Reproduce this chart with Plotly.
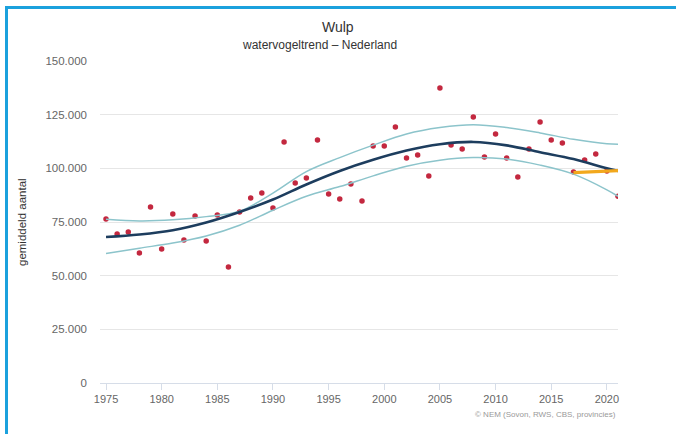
import plotly.graph_objects as go

# ---- data ----
years = list(range(1975, 2022))
counts = [76400, 69400, 70300, 60600, 82000, 62400, 78700, 66600, 77800, 66100,
          78300, 54000, 79700, 86200, 88500, 81500, 112300, 93200, 95500, 113200,
          88000, 85700, 92700, 84800, 110400, 110400, 119300, 104800, 106200, 96400,
          137400, 110900, 109000, 123900, 105300, 116000, 104800, 96000, 109000, 121600,
          113200, 111800, 98300, 103900, 106700, 98800, 87000]

trend_years = [1975, 1978, 1981, 1984, 1987, 1990, 1993, 1996, 1999, 2002,
               2005, 2008, 2011, 2014, 2017, 2020, 2021]
trend = [68000, 69200, 71200, 74800, 79700, 85500, 92500, 98800, 104000, 108300,
         111200, 112300, 110700, 107500, 104300, 100000, 98800]
upper = [76300, 75500, 76000, 77500, 80000, 88500, 98500, 105000, 110800, 116000,
         119000, 120300, 119000, 116500, 113500, 111400, 111200]
lower = [60300, 62800, 65200, 68500, 73500, 80500, 87000, 91500, 96500, 101000,
         103800, 105000, 104300, 101500, 97300, 90000, 87000]

recent_years = [2017, 2021]
recent = [98000, 98900]

y_ticks = [0, 25000, 50000, 75000, 100000, 125000, 150000]
x_ticks = [1975, 1980, 1985, 1990, 1995, 2000, 2005, 2010, 2015, 2020]

FONT = "Liberation Sans"

fig = go.Figure()
fig.add_trace(go.Scatter(x=years, y=counts, mode="markers",
                         marker=dict(size=5.5, color="#c3283f"), hoverinfo="skip"))
for band in (upper, lower):
    fig.add_trace(go.Scatter(x=trend_years, y=band, mode="lines",
                             line=dict(color="#8cc4cb", width=1.5, shape="spline"),
                             hoverinfo="skip"))
fig.add_trace(go.Scatter(x=trend_years, y=trend, mode="lines",
                         line=dict(color="#1d3d5e", width=2.6, shape="spline"),
                         hoverinfo="skip"))
fig.add_trace(go.Scatter(x=recent_years, y=recent, mode="lines",
                         line=dict(color="#f2a81d", width=3.2), hoverinfo="skip"))

L, R, T, B = 100, 58, 61, 51
W, H = 676, 434
pw, ph = W - L - R, H - T - B

def px_x(p):
    return (p - L) / pw

def px_y(p):
    return (H - B - p) / ph

fig.update_layout(
    width=W, height=H,
    margin=dict(l=L, r=R, t=T, b=B, pad=0),
    paper_bgcolor="white", plot_bgcolor="white",
    showlegend=False,
    separators=",.",
    font=dict(family=FONT, color="#666666"),
    xaxis=dict(range=[1974.46, 2021.0], tickvals=x_ticks, tickformat="d",
               showgrid=False, zeroline=False,
               showline=True, linecolor="#d6dde8", linewidth=1,
               ticks="outside", ticklen=6, tickcolor="#d6dde8",
               tickfont=dict(size=11, color="#666666", family=FONT)),
    yaxis=dict(range=[0, 150000], tickvals=y_ticks, tickformat=",d",
               showgrid=True, gridcolor="#e6e6e6", gridwidth=1,
               zeroline=False, showline=False, ticks="",
               ticklabelstandoff=12,
               tickfont=dict(size=11.5, color="#666666", family=FONT)),
    annotations=[
        dict(text="Wulp", xref="paper", yref="paper", x=px_x(338), y=px_y(27),
             showarrow=False, xanchor="center", yanchor="middle",
             font=dict(size=14, color="#333333", family=FONT)),
        dict(text="watervogeltrend \u2013 Nederland", xref="paper", yref="paper",
             x=px_x(319), y=px_y(45), showarrow=False, xanchor="center", yanchor="middle",
             font=dict(size=12, color="#333333", family=FONT)),
        dict(text="gemiddeld aantal", xref="paper", yref="paper",
             x=px_x(22), y=px_y(222), showarrow=False, textangle=-90,
             xanchor="center", yanchor="middle",
             font=dict(size=11.5, color="#333333", family=FONT)),
        dict(text="\u00a9 NEM (Sovon, RWS, CBS, provincies)", xref="paper", yref="paper",
             x=px_x(618), y=px_y(414), showarrow=False, xanchor="right", yanchor="middle",
             font=dict(size=8, color="#999999", family=FONT)),
    ],
    shapes=[
        dict(type="rect", xref="paper", yref="paper", layer="above",
             x0=px_x(5), x1=px_x(8), y0=px_y(434), y1=px_y(6),
             fillcolor="#1ba1dd", line=dict(width=0)),
        dict(type="rect", xref="paper", yref="paper", layer="above",
             x0=px_x(5), x1=px_x(676), y0=px_y(9), y1=px_y(6),
             fillcolor="#1ba1dd", line=dict(width=0)),
    ],
)

fig.write_html("out.html",
               config={"displayModeBar": False},
               post_script="document.body.style.margin='0';document.body.style.overflow='hidden';")
